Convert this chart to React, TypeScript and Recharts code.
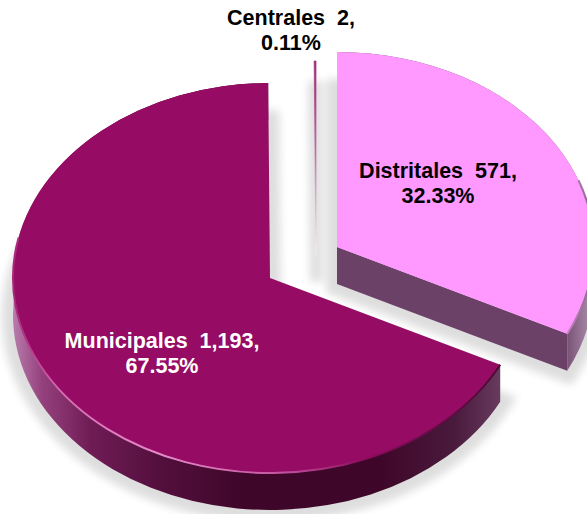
import { PieChart, Pie } from 'recharts'

const categories = ['Distritales', 'Municipales', 'Centrales']
const values = [571, 1193, 2]

const total = values.reduce((a, b) => a + b, 0)
const data = categories.map((name, i) => ({ name, value: values[i] }))

// the chart is a tilted pie: circle radius squashed on y, slices pulled apart
const RX = 257
const RY = 195
const DEPTH = 37
const explode: Record<string, [number, number]> = {
  Municipales: [0, 0],
  Distritales: [67, -31],
  Centrales: [46, -22],
}
const topFill: Record<string, string> = {
  Municipales: '#960b63',
  Distritales: '#ff99ff',
  Centrales: 'url(#sliver)',
}
const labelPos: Record<string, [number, number]> = {
  Municipales: [162, 348],
  Distritales: [438, 178],
  Centrales: [291, 25],
}
const labelColor: Record<string, string> = {
  Municipales: '#ffffff',
  Distritales: '#000000',
  Centrales: '#000000',
}

const rad = (d: number) => (d * Math.PI) / 180

function SliceShape(props: any) {
  const { cx, cy, startAngle, endAngle, name } = props
  const [dx, dy] = explode[name]
  const x0 = cx + dx
  const y0 = cy + dy
  const px = (a: number) => x0 + RX * Math.cos(rad(a))
  const py = (a: number) => y0 - RY * Math.sin(rad(a))
  const large = Math.abs(endAngle - startAngle) > 180 ? 1 : 0
  const arc = `M${px(startAngle)},${py(startAngle)} A${RX},${RY} 0 ${large} 1 ${px(endAngle)},${py(endAngle)}`
  const top = `M${x0},${y0} L${px(startAngle)},${py(startAngle)} A${RX},${RY} 0 ${large} 1 ${px(endAngle)},${py(endAngle)} Z`
  const band =
    `${arc} L${px(endAngle)},${py(endAngle) + DEPTH} ` +
    `A${RX},${RY} 0 ${large} 0 ${px(startAngle)},${py(startAngle) + DEPTH} Z`
  const cut = `M${x0},${y0} L${px(endAngle)},${py(endAngle)} L${px(endAngle)},${py(endAngle) + DEPTH} L${x0},${y0 + DEPTH} Z`

  if (name === 'Centrales') {
    return (
      <g>
        <g opacity={0.13}>
          <path d={top} transform="translate(0,26)" fill="#000" stroke="#000" strokeWidth={12} filter="url(#soft)" />
        </g>
        <path d={top} fill={topFill[name]} stroke={topFill[name]} strokeWidth={0.7} />
      </g>
    )
  }
  // the lit rim only runs along the front of the pie
  const rimFrom = name === 'Distritales' ? 20 : startAngle
  const rimTo = name === 'Distritales' ? startAngle - 116.4 : -192
  const rim = `M${px(rimFrom)},${py(rimFrom)} A${RX},${RY} 0 0 1 ${px(rimTo)},${py(rimTo)}`
  return (
    <g>
      <g opacity={0.13}>
        <path d={top} transform={`translate(0,${DEPTH + 1})`} fill="#000" stroke="#000" strokeWidth={22} filter="url(#soft)" />
      </g>
      {name === 'Distritales' && <path d={cut} fill="#6b4168" />}
      <path d={band} fill={name === 'Municipales' ? 'url(#wallM)' : 'url(#wallD)'} />
      <path d={top} fill={topFill[name]} />
      <path d={rim} fill="none" stroke={name === 'Municipales' ? 'url(#rimM)' : 'url(#rimD)'} strokeWidth={2} />
    </g>
  )
}

function sliceLabel(props: any) {
  const { name, value } = props
  const [x, y] = labelPos[name]
  const pct = ((value / total) * 100).toFixed(2)
  return (
    <text
      x={x}
      y={y}
      textAnchor="middle"
      fill={labelColor[name]}
      style={{ fontFamily: '"Liberation Sans", Arial, sans-serif', fontWeight: 700, fontSize: 21.5, whiteSpace: 'pre' }}
    >
      <tspan x={x}>{`${name}  ${value.toLocaleString('en-US')},`}</tspan>
      <tspan x={x} dy={25}>{`${pct}%`}</tspan>
    </text>
  )
}

export default function App() {
  return (
    <div style={{ position: 'absolute', left: 0, top: 0, width: 587, height: 514, overflow: 'hidden', background: '#fff' }}>
      <PieChart width={587} height={514} margin={{ top: 0, right: 0, bottom: 0, left: 0 }}>
        <defs>
          <filter id="soft" filterUnits="userSpaceOnUse" x="-40" y="-60" width="680" height="640">
            <feGaussianBlur stdDeviation="4" />
          </filter>
          <linearGradient id="sliver" gradientUnits="userSpaceOnUse" x1="0" y1="61" x2="0" y2="250">
            <stop offset="0" stopColor="#a02a78" />
            <stop offset="0.5" stopColor="#c070a8" />
            <stop offset="1" stopColor="#f4e8f0" />
          </linearGradient>
          <linearGradient id="wallM" gradientUnits="userSpaceOnUse" x1="13" y1="0" x2="503" y2="0">
            <stop offset="0" stopColor="#b87cab" />
            <stop offset="0.06" stopColor="#94407d" />
            <stop offset="0.16" stopColor="#6f1c55" />
            <stop offset="0.3" stopColor="#530f3d" />
            <stop offset="0.48" stopColor="#3e0628" />
            <stop offset="0.75" stopColor="#3e0729" />
            <stop offset="0.9" stopColor="#491a3c" />
            <stop offset="1" stopColor="#6a3c60" />
          </linearGradient>
          <linearGradient id="wallD" gradientUnits="userSpaceOnUse" x1="560" y1="0" x2="590" y2="0">
            <stop offset="0" stopColor="#6b4168" />
            <stop offset="1" stopColor="#a98aa8" />
          </linearGradient>
          <linearGradient id="rimM" gradientUnits="userSpaceOnUse" x1="13" y1="0" x2="503" y2="0">
            <stop offset="0" stopColor="#a8257a" />
            <stop offset="0.1" stopColor="#d86cb4" />
            <stop offset="0.3" stopColor="#e58cca" />
            <stop offset="0.55" stopColor="#c4549f" />
            <stop offset="0.72" stopColor="#8a0b5a" />
            <stop offset="1" stopColor="#4a0a33" />
          </linearGradient>
          <linearGradient id="rimD" gradientUnits="userSpaceOnUse" x1="545" y1="0" x2="590" y2="0">
            <stop offset="0" stopColor="#ff99ff" />
            <stop offset="1" stopColor="#8c6a8c" />
          </linearGradient>
        </defs>
        <Pie
          data={data}
          dataKey="value"
          nameKey="name"
          cx={270}
          cy={278}
          outerRadius={RX}
          startAngle={90}
          endAngle={-270}
          stroke="none"
          labelLine={false}
          label={sliceLabel}
          shape={SliceShape}
          isAnimationActive={false}
        />
      </PieChart>
    </div>
  )
}
